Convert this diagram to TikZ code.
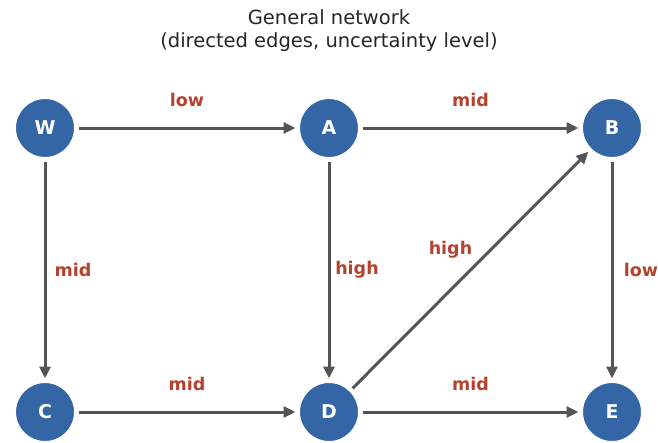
\documentclass[tikz,border=0pt]{standalone}
\usepackage{fontspec}
\setmainfont{DejaVu Sans}
\usetikzlibrary{arrows.meta}
\definecolor{nodeblue}{HTML}{3465A4}
\definecolor{lblred}{HTML}{B5412F}
\definecolor{edgegray}{HTML}{555555}
\definecolor{titlegray}{HTML}{262626}
\begin{document}
\begin{tikzpicture}[x=1pt,y=-1pt,
  netnode/.style={circle,fill=nodeblue,draw=white,line width=1pt,minimum size=59pt,inner sep=0pt,outer sep=0pt,text=white,font=\bfseries\fontsize{19}{22}\selectfont},
  edge/.style={draw=edgegray,line width=3pt,-{Triangle[length=12pt,width=11pt]},shorten >=4pt,shorten <=4pt},
  elabel/.style={text=lblred,font=\bfseries\fontsize{17.5}{20}\selectfont,inner sep=0pt}]
\useasboundingbox (0,0) rectangle (658,442);
\node[text=titlegray,align=center,font=\fontsize{19.5}{23.5}\selectfont] (title) at (329,30.5) {General network\\(directed edges, uncertainty level)};
\node[netnode] (W) at (45,128) {W};
\node[netnode] (A) at (329,128) {A};
\node[netnode] (B) at (612,128) {B};
\node[netnode] (C) at (45,412) {C};
\node[netnode] (D) at (329,412) {D};
\node[netnode] (E) at (612,412) {E};
\draw[edge] (W) -- node[elabel,midway,yshift=28pt]{low} (A);
\draw[edge] (A) -- node[elabel,midway,yshift=28pt]{mid} (B);
\draw[edge] (W) -- node[elabel,midway,xshift=28pt]{mid} (C);
\draw[edge] (A) -- node[elabel,midway,xshift=28pt]{high} (D);
\draw[edge] (B) -- node[elabel,midway,xshift=29pt]{low} (E);
\draw[edge] (D) -- node[elabel,midway,xshift=-20pt,yshift=20pt]{high} (B);
\draw[edge] (C) -- node[elabel,midway,yshift=28pt]{mid} (D);
\draw[edge] (D) -- node[elabel,midway,yshift=28pt]{mid} (E);
\end{tikzpicture}
\end{document}
